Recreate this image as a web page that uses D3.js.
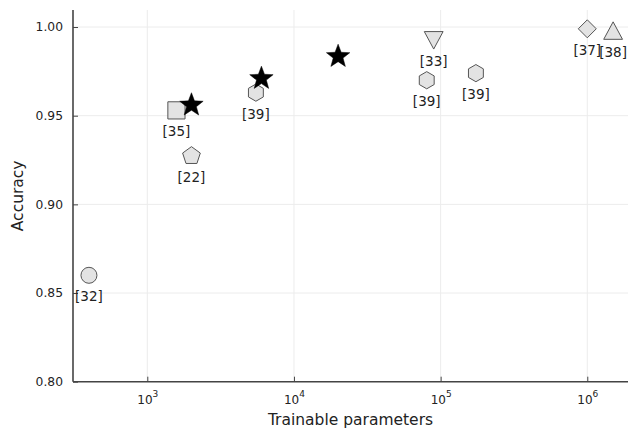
<!DOCTYPE html>
<html>
<head>
<meta charset="utf-8">
<script src="https://cdn.jsdelivr.net/npm/d3@7"></script>
<style>
  html, body { margin: 0; padding: 0; background: #fff; }
  svg { display: block; font-family: "DejaVu Sans", sans-serif; }
</style>
</head>
<body>
<svg id="chart" width="629" height="429"></svg>
<script>
// ---- Data ----
const refLabels   = ["[32]", "[35]", "[22]", "[39]", "[39]", "[39]", "[33]", "[37]", "[38]"];
const refParams   = [400, 1580, 2000, 5500, 80400, 174000, 89700, 1000000, 1500000];
const refAccuracy = [0.860, 0.953, 0.9273, 0.963, 0.970, 0.974, 0.9925, 0.999, 0.998];
const refShapes   = ["circle", "square", "pentagon", "hexagon", "hexagon", "hexagon", "triangleDown", "diamond", "triangleUp"];

const oursParams   = [2000, 6000, 20000];
const oursAccuracy = [0.956, 0.971, 0.9834];

const xTickValues = [1e3, 1e4, 1e5, 1e6];
const xTickExps   = ["3", "4", "5", "6"];
const yTickValues = [0.80, 0.85, 0.90, 0.95, 1.00];

const xLabel = "Trainable parameters";
const yLabel = "Accuracy";

// ---- Layout ----
const W = 629, H = 429;
const plot = { left: 73, right: 628, top: 10, bottom: 381.7 };

const x = d3.scaleLog().domain([311.4, 1.895e6]).range([plot.left, plot.right]);
const y = d3.scaleLinear().domain([0.8, 1.0096]).range([plot.bottom, plot.top]);

const svg = d3.select("#chart");
svg.append("rect").attr("width", W).attr("height", H).attr("fill", "#fff");

// ---- custom symbol types (size = radius) ----
function polygonType(n, rotDeg, inner) {
  return {
    draw(ctx, r) {
      const pts = [];
      const k = inner ? 2 * n : n;
      for (let i = 0; i < k; i++) {
        const a = (rotDeg * Math.PI / 180) + i * 2 * Math.PI / k;
        const rr = inner && (i % 2 === 1) ? r * inner : r;
        pts.push([rr * Math.sin(a), -rr * Math.cos(a)]);
      }
      ctx.moveTo(pts[0][0], pts[0][1]);
      for (let i = 1; i < pts.length; i++) ctx.lineTo(pts[i][0], pts[i][1]);
      ctx.closePath();
    }
  };
}
const circleType = { draw(ctx, r) { ctx.moveTo(r, 0); ctx.arc(0, 0, r, 0, 2 * Math.PI); } };
const squareType = { draw(ctx, r) { ctx.rect(-r, -r, 2 * r, 2 * r); } };
const triUpType = { draw(ctx, r) { const h = r * 0.93; ctx.moveTo(0, -h); ctx.lineTo(r, h); ctx.lineTo(-r, h); ctx.closePath(); } };
const triDownType = { draw(ctx, r) { const h = r * 0.93; ctx.moveTo(0, h); ctx.lineTo(r, -h); ctx.lineTo(-r, -h); ctx.closePath(); } };

const shapeDefs = {
  circle:       { type: circleType, r: 8 },
  square:       { type: squareType, r: 8.6 },
  pentagon:     { type: polygonType(5, 0), r: 9.3 },
  hexagon:      { type: polygonType(6, 0), r: 8.6 },
  diamond:      { type: polygonType(4, 0), r: 9 },
  triangleUp:   { type: triUpType, r: 9.4 },
  triangleDown: { type: triDownType, r: 9.4 }
};
const starType = polygonType(5, 0, 0.42);

// ---- grid ----
const grid = svg.append("g");
grid.selectAll("line.gx").data(xTickValues).join("line")
  .attr("x1", d => x(d)).attr("x2", d => x(d))
  .attr("y1", plot.top).attr("y2", plot.bottom)
  .attr("stroke", "#ececec").attr("stroke-width", 1);
grid.selectAll("line.gy").data(yTickValues).join("line")
  .attr("x1", plot.left).attr("x2", plot.right)
  .attr("y1", d => y(d)).attr("y2", d => y(d))
  .attr("stroke", "#ececec").attr("stroke-width", 1);

// ---- axes ----
const xAxis = d3.axisBottom(x).tickValues(xTickValues).tickSize(-5).tickFormat("");
const yAxis = d3.axisLeft(y).tickValues(yTickValues).tickSize(-5).tickFormat(d3.format(".2f")).tickPadding(14);

const gx = svg.append("g").attr("transform", `translate(0,${plot.bottom})`).call(xAxis)
  .attr("font-family", "DejaVu Sans").attr("font-size", 12);
gx.select(".domain").attr("d", `M${plot.left},0H${plot.right}`).attr("stroke", "#444").attr("stroke-width", 1.6);
gx.selectAll(".tick line").attr("stroke", "#444").attr("stroke-width", 1);
gx.selectAll(".tick text").remove();

gx.selectAll(".tick").each(function(d, i) {
  const t = d3.select(this).append("text")
    .attr("y", 22.5).attr("fill", "#222").attr("font-size", 12)
    .attr("text-anchor", "middle");
  t.append("tspan").text("10");
  t.append("tspan").attr("dy", -7).attr("font-size", 9).text(xTickExps[i]);
});

const gy = svg.append("g").attr("transform", `translate(${plot.left},0)`).call(yAxis)
  .attr("font-family", "DejaVu Sans").attr("font-size", 12.3);
gy.select(".domain").attr("d", `M0,${plot.top}V${plot.bottom}`).attr("stroke", "#444").attr("stroke-width", 1.6);
gy.selectAll(".tick line").attr("stroke", "#444").attr("stroke-width", 1);
gy.selectAll(".tick text").attr("fill", "#222").attr("dx", 4);

// axis labels
svg.append("text").attr("x", (plot.left + plot.right) / 2).attr("y", 425)
  .attr("text-anchor", "middle").attr("font-size", 15.5).attr("fill", "#222").text(xLabel);
svg.append("text").attr("transform", `translate(23,${(plot.top + plot.bottom) / 2}) rotate(-90)`)
  .attr("text-anchor", "middle").attr("font-size", 15.5).attr("fill", "#222").text(yLabel);

// ---- reference points ----
const refData = refLabels.map((l, i) => ({ label: l, p: refParams[i], a: refAccuracy[i], shape: refShapes[i] }));
const pts = svg.append("g");
pts.selectAll("path.ref").data(refData).join("path")
  .attr("class", "ref")
  .attr("transform", d => `translate(${x(d.p)},${y(d.a)})`)
  .attr("d", d => d3.symbol().type(shapeDefs[d.shape].type).size(shapeDefs[d.shape].r)())
  .attr("fill", "#e3e3e3").attr("stroke", "#555").attr("stroke-width", 1);

pts.selectAll("text.lbl").data(refData).join("text")
  .attr("class", "lbl")
  .attr("x", d => x(d.p)).attr("y", d => y(d.a) + 26)
  .attr("text-anchor", "middle").attr("font-size", 13.5).attr("fill", "#222")
  .text(d => d.label);

// ---- ours (stars) ----
const oursData = oursParams.map((p, i) => ({ p, a: oursAccuracy[i] }));
pts.selectAll("path.star").data(oursData).join("path")
  .attr("class", "star")
  .attr("transform", d => `translate(${x(d.p)},${y(d.a)})`)
  .attr("d", d3.symbol().type(starType).size(12.3)())
  .attr("fill", "#000").attr("stroke", "#000").attr("stroke-width", 0.5);
</script>
</body>
</html>
